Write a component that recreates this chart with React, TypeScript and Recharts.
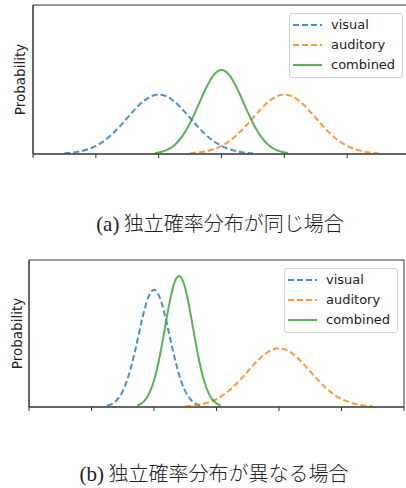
import { LineChart, Line, XAxis, YAxis, Legend, ReferenceArea } from 'recharts';

const seriesNames = ['visual', 'auditory', 'combined'];
const seriesColors = ['#1f77b4', '#ff7f0e', '#2ca02c'];
const xTicks = [0, 1, 2, 3, 4, 5, 6];

// (a) same widths
const topVisualX = [0.5, 0.625, 0.75, 0.875, 1, 1.125, 1.25, 1.375, 1.5, 1.625, 1.75, 1.875, 2, 2.125, 2.25, 2.375, 2.5, 2.625, 2.75, 2.875, 3, 3.125, 3.25, 3.375, 3.5];
const topVisualY = [0.009, 0.018, 0.035, 0.064, 0.108, 0.173, 0.259, 0.365, 0.484, 0.602, 0.704, 0.773, 0.798, 0.773, 0.704, 0.602, 0.484, 0.365, 0.259, 0.173, 0.108, 0.064, 0.035, 0.018, 0.009];
const topAuditoryX = [2.5, 2.625, 2.75, 2.875, 3, 3.125, 3.25, 3.375, 3.5, 3.625, 3.75, 3.875, 4, 4.125, 4.25, 4.375, 4.5, 4.625, 4.75, 4.875, 5, 5.125, 5.25, 5.375, 5.5];
const topAuditoryY = [0.009, 0.018, 0.035, 0.064, 0.108, 0.173, 0.259, 0.365, 0.484, 0.602, 0.704, 0.773, 0.798, 0.773, 0.704, 0.602, 0.484, 0.365, 0.259, 0.173, 0.108, 0.064, 0.035, 0.018, 0.009];
const topCombinedX = [1.94, 2, 2.125, 2.25, 2.375, 2.5, 2.625, 2.75, 2.875, 3, 3.125, 3.25, 3.375, 3.5, 3.625, 3.75, 3.875, 4, 4.06];
const topCombinedY = [0.013, 0.021, 0.053, 0.119, 0.236, 0.415, 0.643, 0.879, 1.06, 1.128, 1.06, 0.879, 0.643, 0.415, 0.236, 0.119, 0.053, 0.021, 0.013];

// (b) different widths
const botVisualX = [1.25, 1.3125, 1.375, 1.4375, 1.5, 1.5625, 1.625, 1.6875, 1.75, 1.8125, 1.875, 1.9375, 2, 2.0625, 2.125, 2.1875, 2.25, 2.3125, 2.375, 2.4375, 2.5, 2.5625, 2.625, 2.6875, 2.75];
const botVisualY = [0.018, 0.036, 0.07, 0.127, 0.216, 0.345, 0.518, 0.731, 0.968, 1.205, 1.408, 1.547, 1.596, 1.547, 1.408, 1.205, 0.968, 0.731, 0.518, 0.345, 0.216, 0.127, 0.07, 0.036, 0.018];
const botAuditoryX = [2.5, 2.625, 2.75, 2.875, 3, 3.125, 3.25, 3.375, 3.5, 3.625, 3.75, 3.875, 4, 4.125, 4.25, 4.375, 4.5, 4.625, 4.75, 4.875, 5, 5.125, 5.25, 5.375, 5.5];
const botAuditoryY = [0.009, 0.018, 0.035, 0.064, 0.108, 0.173, 0.259, 0.365, 0.484, 0.602, 0.704, 0.773, 0.798, 0.773, 0.704, 0.602, 0.484, 0.365, 0.259, 0.173, 0.108, 0.064, 0.035, 0.018, 0.009];
const botCombinedX = [1.73, 1.75, 1.8, 1.85, 1.9, 1.95, 2, 2.05, 2.1, 2.15, 2.2, 2.25, 2.3, 2.35, 2.4, 2.45, 2.5, 2.55, 2.6, 2.65, 2.7, 2.75, 2.8, 2.85, 2.9, 2.95, 3, 3.05, 3.07];
const botCombinedY = [0.02, 0.026, 0.049, 0.087, 0.146, 0.235, 0.36, 0.524, 0.725, 0.955, 1.196, 1.425, 1.614, 1.74, 1.784, 1.74, 1.614, 1.425, 1.196, 0.955, 0.725, 0.524, 0.36, 0.235, 0.146, 0.087, 0.049, 0.026, 0.02];

const captions = ['(a) 独立確率分布が同じ場合', '(b) 独立確率分布が異なる場合'];

const zip = (xs: number[], ys: number[]) => xs.map((x, i) => ({ x, y: ys[i] }));

const axisColor = '#333';
const textFont = '"DejaVu Sans", sans-serif';

function LegendBox() {
  return (
    <div style={{ width: '100%', height: '100%', boxSizing: 'border-box', border: '1px solid #d0d0d0', borderRadius: 3, background: 'rgba(255,255,255,0.85)', position: 'relative', fontFamily: textFont, fontSize: 13, color: '#222' }}>
      {seriesNames.map((name, i) => (
        <div key={name} style={{ position: 'absolute', left: 0, top: 1 + i * 20, height: 20, display: 'flex', alignItems: 'center' }}>
          <svg width={41} height={20} style={{ display: 'block' }}>
            <line x1={3} x2={32} y1={10} y2={10} stroke={seriesColors[i]} strokeOpacity={0.8} strokeWidth={2} strokeDasharray={i < 2 ? '6 3' : undefined} />
          </svg>
          <span style={{ lineHeight: '20px' }}>{name}</span>
        </div>
      ))}
    </div>
  );
}

interface PanelProps {
  series: { x: number; y: number }[][];
  width: number;
  height: number;
  top: number;
  plotLeft: number;
  plotRight: number;
  plotTop: number;
  plotBottom: number;
  legendPos: { left: number; top: number };
  labelDx: number;
}

function Panel({ series, width, height, top, plotLeft, plotRight, plotTop, plotBottom, legendPos, labelDx }: PanelProps) {
  return (
    <div style={{ position: 'absolute', left: 0, top }}>
      <LineChart width={width} height={height} margin={{ top: plotTop, right: width - plotRight, left: 0, bottom: 0 }}>
        <XAxis dataKey="x" type="number" domain={[0, 6]} ticks={xTicks} allowDataOverflow height={height - plotBottom}
          tick={() => <g />} tickSize={4} stroke={axisColor} tickLine={{ stroke: axisColor }} />
        <YAxis type="number" domain={[0, 2]} allowDataOverflow width={plotLeft} tick={false} tickLine={false} stroke={axisColor}
          label={{ value: 'Probability', angle: -90, position: 'center', dx: labelDx, style: { fontFamily: textFont, fontSize: 13.5, fill: '#222' } }} />
        <ReferenceArea x1={0} x2={6} y1={0} y2={2} fill="none" stroke={axisColor} strokeWidth={1} ifOverflow="visible" />
        {series.map((data, i) => (
          <Line key={seriesNames[i]} data={data} dataKey="y" name={seriesNames[i]} type="monotone" dot={false} activeDot={false}
            stroke={seriesColors[i]} strokeOpacity={0.8} strokeWidth={2} strokeDasharray={i < 2 ? '6 3' : undefined} isAnimationActive={false} />
        ))}
        <Legend layout="horizontal" verticalAlign="middle" align="center" content={() => <LegendBox />}
          wrapperStyle={{ left: legendPos.left, top: legendPos.top, width: 114, height: 65 }} />
      </LineChart>
    </div>
  );
}

export default function App() {
  return (
    <div style={{ position: 'absolute', left: 0, top: 0, width: 406, height: 488, overflow: 'hidden', background: '#fff' }}>
      <Panel series={[zip(topVisualX, topVisualY), zip(topAuditoryX, topAuditoryY), zip(topCombinedX, topCombinedY)]}
        width={420} height={170} top={0} plotLeft={33} plotRight={410} plotTop={5} plotBottom={154}
        legendPos={{ left: 289, top: 13 }} labelDx={4} />
      <Panel series={[zip(botVisualX, botVisualY), zip(botAuditoryX, botAuditoryY), zip(botCombinedX, botCombinedY)]}
        width={406} height={170} top={250} plotLeft={29} plotRight={404} plotTop={10} plotBottom={157}
        legendPos={{ left: 284, top: 18 }} labelDx={3} />
      {captions.map((c, i) => (
        <div key={c} style={{ position: 'absolute', left: 0, width: 406, top: i === 0 ? 210 : 460, height: 26, lineHeight: '26px',
          textAlign: 'center', paddingLeft: i === 0 ? 34 : 22, boxSizing: 'border-box', fontSize: 20, color: '#222',
          fontFamily: '"Liberation Serif", "Noto Sans CJK JP", serif' }}>
          <span style={{ fontSize: 21 }}>{c.slice(0, 3)}</span>
          <span style={{ fontFamily: '"Noto Sans CJK JP", sans-serif', fontWeight: 300 }}>{c.slice(3)}</span>
        </div>
      ))}
    </div>
  );
}
